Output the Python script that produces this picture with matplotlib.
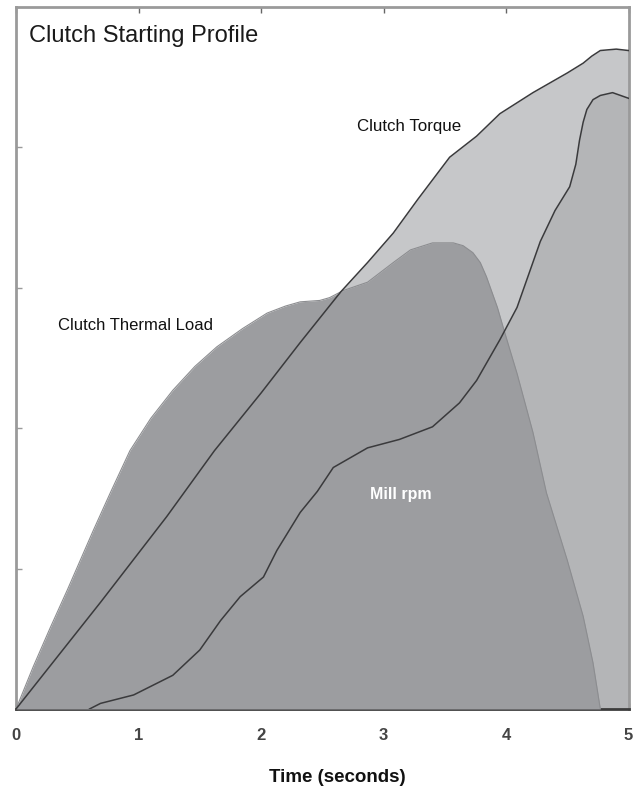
import matplotlib
matplotlib.use("Agg")
import matplotlib.pyplot as plt

# DATA (time in seconds, levels in arbitrary units)

torque_t = [0, 0.69, 1.23, 1.62, 2.0, 2.32, 2.65, 2.87, 3.08, 3.28, 3.54, 3.76,
            3.95, 4.22, 4.50, 4.63, 4.70, 4.77, 4.90, 5.0]
torque_v = [0, 0.76, 1.37, 1.84, 2.25, 2.61, 2.97, 3.18, 3.39, 3.63, 3.93, 4.08,
            4.24, 4.39, 4.53, 4.60, 4.65, 4.69, 4.70, 4.69]

thermal_t = [0, 0.14, 0.28, 0.42, 0.63, 0.77, 0.93, 1.10, 1.28, 1.46, 1.64, 1.85,
             2.05, 2.20, 2.32, 2.48, 2.56, 2.67, 2.77, 2.87, 3.08, 3.22, 3.40, 3.57,
             3.65, 3.73, 3.79, 3.84, 3.93, 3.99, 4.09, 4.22, 4.33, 4.50, 4.63, 4.71,
             4.77]
thermal_v = [0, 0.30, 0.58, 0.85, 1.27, 1.54, 1.84, 2.07, 2.27, 2.44, 2.58, 2.71,
             2.82, 2.87, 2.90, 2.91, 2.93, 2.98, 3.01, 3.04, 3.18, 3.27, 3.32, 3.32,
             3.30, 3.25, 3.18, 3.08, 2.86, 2.68, 2.39, 1.97, 1.54, 1.06, 0.66, 0.33,
             0]

mill_t = [0.60, 0.69, 0.96, 1.28, 1.50, 1.67, 1.83, 2.02, 2.13, 2.32, 2.46, 2.59,
          2.87, 3.13, 3.40, 3.62, 3.76, 3.95, 4.09, 4.28, 4.40, 4.52, 4.57, 4.60,
          4.63, 4.66, 4.71, 4.77, 4.87, 5.0]
mill_v = [0, 0.04, 0.10, 0.24, 0.42, 0.63, 0.80, 0.94, 1.13, 1.40, 1.55, 1.72,
          1.86, 1.92, 2.01, 2.18, 2.34, 2.63, 2.86, 3.33, 3.55, 3.72, 3.88, 4.05,
          4.18, 4.27, 4.34, 4.37, 4.39, 4.35]

x_ticks = [0, 1, 2, 3, 4, 5]
y_ticks = [1, 2, 3, 4]

# STYLE

sans = ['Liberation Sans', 'DejaVu Sans']

torque_fill = '#c6c7c9'
mill_fill = '#b4b5b7'
thermal_fill = '#9c9da0'
line_color = '#3a3a3c'
frame_color = '#9a9a9a'

fig = plt.figure(figsize=(6.36, 7.93), dpi=100)
ax = fig.add_axes([16 / 636, 84 / 793, 612.5 / 636, 702 / 793])

ax.fill_between(torque_t, 0, torque_v, color=torque_fill, lw=0, zorder=1)
ax.fill_between(mill_t, 0, mill_v, color=mill_fill, lw=0, zorder=2)
ax.fill_between(thermal_t, 0, thermal_v, color=thermal_fill, lw=0, zorder=3)
ax.plot(thermal_t, thermal_v, color='#8c8d90', lw=0.8, zorder=4)
ax.plot(torque_t, torque_v, color=line_color, lw=1.1, zorder=5)
ax.plot(mill_t, mill_v, color=line_color, lw=1.1, zorder=5)

ax.set_xlim(0, 5)
ax.set_ylim(0, 5)

ax.set_xticks(x_ticks)
ax.set_xticklabels([str(t) for t in x_ticks], fontsize=12, fontweight='bold',
                   color='#444444', family=sans)
ax.set_yticks(y_ticks)
ax.set_yticklabels([])
ax.tick_params(axis='x', direction='in', length=4, width=1, color='#666666',
               pad=14, top=True)
ax.tick_params(axis='y', direction='in', length=4, width=1, color=frame_color)

for side in ['left', 'top', 'right']:
    ax.spines[side].set_color(frame_color)
    ax.spines[side].set_linewidth(2)
ax.spines['bottom'].set_color('#3c3c3c')
ax.spines['bottom'].set_linewidth(2)

# labels
ax.text(2.78, 4.15, 'Clutch Torque', fontsize=12.2, family=sans, va='center',
        color='#111111', zorder=6)
ax.text(0.34, 2.73, 'Clutch Thermal Load', fontsize=12, family=sans, va='center',
        color='#111111', zorder=6)
ax.text(2.89, 1.53, 'Mill rpm', fontsize=11.5, family=sans, fontweight='bold',
        va='center', color='white', zorder=6)

fig.text(29 / 636, 1 - 36 / 793, 'Clutch Starting Profile', fontsize=17,
         family=sans, va='center', color='#1a1a1a')
fig.text(337 / 636, 1 - 777 / 793, 'Time (seconds)', fontsize=13.5, fontweight='bold',
         family=sans, ha='center', va='center', color='#111111')

fig.savefig('out.png', dpi=100)
